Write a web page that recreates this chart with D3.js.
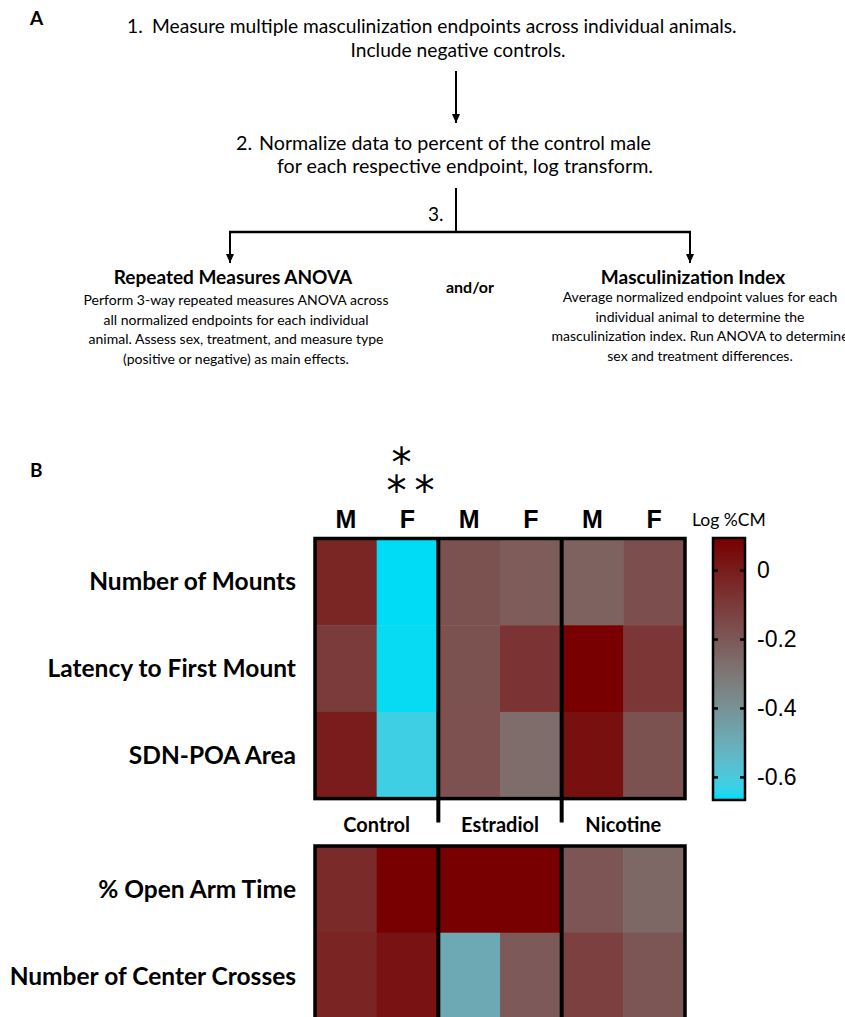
<!DOCTYPE html>
<html>
<head>
<meta charset="utf-8">
<script src="https://cdn.jsdelivr.net/npm/d3@7"></script>
<style>
  body { margin: 0; background: #fff; }
  svg { display: block; }
</style>
</head>
<body>
<div id="chart"></div>
<script>
// heatmap rows (endpoints) and columns (treatment x sex)
const rowsTop = ['Number of Mounts', 'Latency to First Mount', 'SDN-POA Area'];
const rowsBottom = ['% Open Arm Time', 'Number of Center Crosses'];
const groups = ['Control', 'Estradiol', 'Nicotine'];
const sexes = ['M', 'F'];

// log %CM, columns in order: Control M, Control F, Estradiol M, Estradiol F, Nicotine M, Nicotine F
const mounts = [-0.034, -0.68, -0.180, -0.213, -0.233, -0.170];
const latency = [-0.104, -0.665, -0.180, -0.080, 0.10, -0.087];
const sdnArea = [0.0, -0.62, -0.177, -0.270, 0.040, -0.180];
const openArm = [-0.047, 0.12, 0.12, 0.12, -0.190, -0.253];
const centerCrosses = [-0.030, 0.033, -0.487, -0.207, -0.120, -0.193];

// colour bar
const colorTicks = [0, -0.2, -0.4, -0.6];
const colorDomain = [-0.667, -0.3, 0.093];
const colorRange = ['#00dcf5', '#7e7674', '#780000'];

// flowchart text (panel A)
const step1 = ['Measure multiple masculinization endpoints across individual animals.', 'Include negative controls.'];
const step2 = ['Normalize data to percent of the control male', 'for each respective endpoint, log transform.'];
const leftTitle = 'Repeated Measures ANOVA';
const leftText = ['Perform 3-way repeated measures ANOVA across', 'all normalized endpoints for each individual',
  'animal. Assess sex, treatment, and measure type', '(positive or negative) as main effects.'];
const rightTitle = 'Masculinization Index';
const rightText = ['Average normalized endpoint values for each', 'individual animal to determine the',
  'masculinization index. Run ANOVA to determine', 'sex and treatment differences.'];

const width = 845, height = 1017;
const bodyFont = 'Lato, "Open Sans", sans-serif';
const arialFont = '"Liberation Sans", Arial, sans-serif';

const svg = d3.select('#chart')
  .append('svg')
  .attr('width', width)
  .attr('height', height)
  .style('font-family', bodyFont);

// ---------- panel A : flowchart ----------
svg.append('defs')
  .append('marker')
  .attr('id', 'head')
  .attr('markerUnits', 'userSpaceOnUse')
  .attr('markerWidth', 9)
  .attr('markerHeight', 9)
  .attr('refX', 9)
  .attr('refY', 4.5)
  .attr('orient', 'auto')
  .attr('viewBox', '0 0 9 9')
  .append('path')
  .attr('d', 'M0,0.5 L9,4.5 L0,8.5 Z')
  .attr('fill', '#000');

const flow = svg.append('g');

flow.append('text').attr('x', 30).attr('y', 25)
  .style('font-weight', 700).style('font-size', '19px').text('A');

flow.append('text').attr('x', 127).attr('y', 33).style('font-size', '19.2px').text('1.');
flow.append('text').attr('x', 152).attr('y', 33).style('font-size', '19.2px').text(step1[0]);
flow.append('text').attr('x', 458).attr('y', 57).attr('text-anchor', 'middle')
  .style('font-size', '19.2px').text(step1[1]);

flow.append('line')
  .attr('x1', 456).attr('x2', 456).attr('y1', 71).attr('y2', 123)
  .attr('stroke', '#000').attr('stroke-width', 2)
  .attr('marker-end', 'url(#head)');

flow.append('text').attr('x', 236).attr('y', 150).style('font-size', '19.7px').text('2.');
flow.append('text').attr('x', 259).attr('y', 150).style('font-size', '19.7px').text(step2[0]);
flow.append('text').attr('x', 465).attr('y', 173).attr('text-anchor', 'middle')
  .style('font-size', '19.7px').text(step2[1]);

// branch
flow.append('line')
  .attr('x1', 456).attr('x2', 456).attr('y1', 188).attr('y2', 233)
  .attr('stroke', '#000').attr('stroke-width', 2);
flow.append('text').attr('x', 428).attr('y', 221).style('font-size', '19px').text('3.');
flow.append('line')
  .attr('x1', 229).attr('x2', 691).attr('y1', 232).attr('y2', 232)
  .attr('stroke', '#000').attr('stroke-width', 2.5);
[230, 690].forEach(xp => {
  flow.append('line')
    .attr('x1', xp).attr('x2', xp).attr('y1', 232).attr('y2', 263)
    .attr('stroke', '#000').attr('stroke-width', 2)
    .attr('marker-end', 'url(#head)');
});

flow.append('text').attr('x', 233).attr('y', 284).attr('text-anchor', 'middle')
  .style('font-weight', 700).style('font-size', '19px').text(leftTitle);
flow.append('text').attr('x', 470).attr('y', 293).attr('text-anchor', 'middle')
  .style('font-weight', 700).style('font-size', '16px').text('and/or');
flow.append('text').attr('x', 693).attr('y', 284).attr('text-anchor', 'middle')
  .style('font-weight', 700).style('font-size', '19px').text(rightTitle);

flow.selectAll('text.left')
  .data(leftText)
  .join('text')
  .attr('class', 'left')
  .attr('x', 236)
  .attr('y', (d, i) => 305 + i * 19.5)
  .attr('text-anchor', 'middle')
  .style('font-size', '14px')
  .text(d => d);

flow.selectAll('text.right')
  .data(rightText)
  .join('text')
  .attr('class', 'right')
  .attr('x', 700)
  .attr('y', (d, i) => 302 + i * 19.5)
  .attr('text-anchor', 'middle')
  .style('font-size', '14px')
  .text(d => d);

// ---------- panel B : heatmap ----------
svg.append('text').attr('x', 30).attr('y', 477)
  .style('font-weight', 700).style('font-size', '19px').text('B');

const columns = groups.flatMap(g => sexes.map(s => `${g} ${s}`));

const x = d3.scaleBand().domain(columns).range([315, 685]);
const rowStep = 86.7;

// lower half blends in Lab, upper half in RGB (keeps the reds grey-pink)
const color = d3.scaleLinear()
  .domain(colorDomain)
  .range(colorRange)
  .interpolate((a, b) => (a === colorRange[0] ? d3.interpolateLab(a, b) : d3.interpolateRgb(a, b)))
  .clamp(true);

// column headers
svg.append('g')
  .selectAll('text')
  .data(columns)
  .join('text')
  .attr('x', d => x(d) + x.bandwidth() / 2)
  .attr('y', 528)
  .attr('text-anchor', 'middle')
  .style('font-family', arialFont)
  .style('font-weight', 700)
  .style('font-size', '25px')
  .text(d => d.split(' ')[1]);

// significance stars over Control F
const starX = x('Control F') + x.bandwidth() / 2;
svg.append('text')
  .attr('x', starX - 6).attr('y', 477)
  .attr('text-anchor', 'middle')
  .style('font-family', '"DejaVu Sans", sans-serif')
  .style('font-size', '40px')
  .text('*');
svg.append('text')
  .attr('x', starX + 7).attr('y', 505)
  .attr('text-anchor', 'middle')
  .style('font-family', '"DejaVu Sans", sans-serif')
  .style('font-size', '40px')
  .style('letter-spacing', '8px')
  .text('**');

function heatmap(rows, values, top, tickBelow) {
  const y = d3.scaleBand().domain(rows).range([top, top + rows.length * rowStep]);
  const cells = rows.flatMap((r, i) => columns.map((c, j) => ({ row: r, col: c, value: values[i][j] })));
  const g = svg.append('g');

  g.selectAll('rect.cell')
    .data(cells)
    .join('rect')
    .attr('class', 'cell')
    .attr('x', d => x(d.col))
    .attr('y', d => y(d.row))
    .attr('width', x.bandwidth() + 0.5)
    .attr('height', y.bandwidth() + 0.5)
    .attr('fill', d => color(d.value));

  // treatment group separators
  g.selectAll('line.sep')
    .data(groups.slice(1))
    .join('line')
    .attr('class', 'sep')
    .attr('x1', d => x(`${d} M`))
    .attr('x2', d => x(`${d} M`))
    .attr('y1', top)
    .attr('y2', top + rows.length * rowStep + tickBelow)
    .attr('stroke', '#000')
    .attr('stroke-width', 4);

  g.append('rect')
    .attr('x', x.range()[0])
    .attr('y', top)
    .attr('width', x.range()[1] - x.range()[0])
    .attr('height', rows.length * rowStep)
    .attr('fill', 'none')
    .attr('stroke', '#000')
    .attr('stroke-width', 3.5);

  g.selectAll('text.rowlabel')
    .data(rows)
    .join('text')
    .attr('class', 'rowlabel')
    .attr('x', 296)
    .attr('y', d => y(d) + y.bandwidth() / 2)
    .attr('dy', '0.35em')
    .attr('text-anchor', 'end')
    .style('font-weight', 700)
    .style('font-size', '24.5px')
    .text(d => d);
}

heatmap(rowsTop, [mounts, latency, sdnArea], 538.5, 24);
heatmap(rowsBottom, [openArm, centerCrosses], 846, 0);

// treatment labels between the two blocks
svg.append('g')
  .selectAll('text')
  .data(groups)
  .join('text')
  .attr('x', d => (x(`${d} M`) + x(`${d} F`) + x.bandwidth()) / 2)
  .attr('y', 832)
  .attr('text-anchor', 'middle')
  .style('font-weight', 700)
  .style('font-size', '20px')
  .text(d => d);

// ---------- colour bar ----------
const barX = 713, barW = 32;
const cy = d3.scaleLinear().domain([colorDomain[0], colorDomain[2]]).range([800, 538]);

const grad = svg.select('defs')
  .append('linearGradient')
  .attr('id', 'bar')
  .attr('x1', 0).attr('y1', 1).attr('x2', 0).attr('y2', 0);
grad.selectAll('stop')
  .data(d3.range(0, 1.0001, 0.04))
  .join('stop')
  .attr('offset', d => d)
  .attr('stop-color', d => color(colorDomain[0] + d * (colorDomain[2] - colorDomain[0])));

svg.append('rect')
  .attr('x', barX)
  .attr('y', cy.range()[1])
  .attr('width', barW)
  .attr('height', cy.range()[0] - cy.range()[1])
  .attr('fill', 'url(#bar)')
  .attr('stroke', '#000')
  .attr('stroke-width', 2.5);

const axisR = svg.append('g')
  .attr('transform', `translate(${barX + barW},0)`)
  .call(d3.axisRight(cy).tickValues(colorTicks).tickSize(-5).tickPadding(12)
    .tickFormat(d => (d === 0 ? '0' : String(d))));
const axisL = svg.append('g')
  .attr('transform', `translate(${barX},0)`)
  .call(d3.axisLeft(cy).tickValues(colorTicks).tickSize(-5).tickFormat(''));

[axisR, axisL].forEach(a => {
  a.select('.domain').remove();
  a.selectAll('line').attr('stroke', '#000').attr('stroke-width', 2.5);
});
axisR.selectAll('text')
  .attr('fill', '#000')
  .style('font-family', arialFont)
  .style('font-size', '23px');

svg.append('text')
  .attr('x', 692).attr('y', 526)
  .style('font-size', '17.5px')
  .text('Log %CM');
</script>
</body>
</html>
